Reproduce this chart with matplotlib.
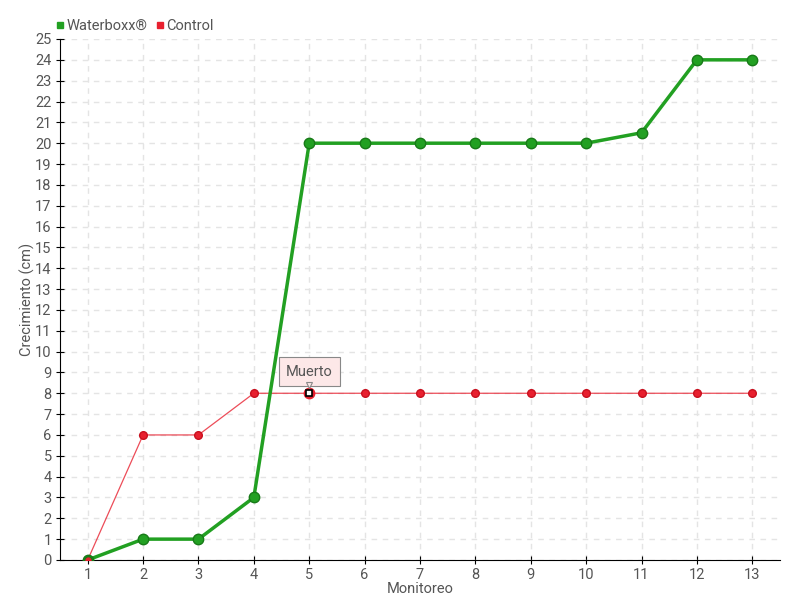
import matplotlib
matplotlib.use("Agg")
import matplotlib.pyplot as plt
import matplotlib.transforms as mtransforms
from matplotlib.lines import Line2D

plt.rcParams['font.family'] = ['Roboto', 'DejaVu Sans']

# data
monitoreo = list(range(1, 14))
waterboxx = [0, 1, 1, 3, 20, 20, 20, 20, 20, 20, 20.5, 24, 24]
control = [0, 6, 6, 8, 8, 8, 8, 8, 8, 8, 8, 8, 8]
muerto_idx = 4  # point labelled "Muerto"

green = '#22a022'
red = '#e8202f'
txt = '#555555'

fig = plt.figure(figsize=(8, 6), dpi=100)
ax = fig.add_axes([0.075, 0.0667, 0.9, 0.8683])

ax.plot(monitoreo, control, color=red, lw=0.9, alpha=0.8, zorder=3)
ax.plot(monitoreo, control, 'o', color=red, ms=5.5, mec='#c8101e', zorder=4)
ax.plot(monitoreo[muerto_idx], control[muerto_idx], 's', color='white',
        mec='black', ms=4, mew=1.2, zorder=6)
ax.plot(monitoreo[muerto_idx], control[muerto_idx], 'o', color='none',
        mec=red, ms=7, mew=1.5, zorder=5)

ax.plot(monitoreo, waterboxx, color=green, lw=2.5, zorder=3)
ax.plot(monitoreo, waterboxx, 'o', color=green, ms=7.5, mec='#187a18', zorder=4)
# first point: red on top
ax.plot(monitoreo[0], control[0], 'o', color=red, ms=5.5, mec='#187a18', zorder=5)

ax.annotate('Muerto', xy=(monitoreo[muerto_idx], control[muerto_idx]),
            xytext=(0, 15.5), textcoords='offset points', ha='center',
            va='center', fontsize=10.5, color=txt,
            bbox=dict(boxstyle='square,pad=0.5', fc='#fde8e8', ec='#888888', lw=0.8),
            zorder=7)
tr = mtransforms.offset_copy(ax.transData, fig=fig, x=0, y=5.8, units='points')
ax.plot(monitoreo[muerto_idx], control[muerto_idx], 'v', ms=5, color='#fde8e8',
        mec='#888888', mew=0.8, transform=tr, zorder=8, clip_on=False)

ax.set_xlim(0.5, 13.5)
ax.set_ylim(0, 25)
ax.set_xticks(monitoreo)
ax.set_yticks(range(0, 26))
ax.tick_params(direction='inout', length=6, colors='black', labelcolor=txt,
               labelsize=10.5, pad=3)
ax.grid(True, ls=(0, (4, 4)), color='#e4e4e4', lw=1)
ax.set_axisbelow(True)
for s in ['top', 'right']:
    ax.spines[s].set_visible(False)
ax.set_xlabel('Monitoreo', color=txt, fontsize=10.5, labelpad=-0.5)
ax.set_ylabel('Crecimiento (cm)', color=txt, fontsize=10.5)
ax.yaxis.set_label_coords(-0.035, 0.5)

handles = [Line2D([], [], marker='s', color=green, ls='', ms=4.5),
           Line2D([], [], marker='s', color=red, ls='', ms=4.5)]
fig.legend(handles, ['Waterboxx®', 'Control'], loc='upper left',
           bbox_to_anchor=(0.052, 0.99), ncol=2, frameon=False,
           handletextpad=0.1, columnspacing=0.5, fontsize=10.5,
           labelcolor=txt, handlelength=0.7)

fig.savefig('out.png', dpi=100)
